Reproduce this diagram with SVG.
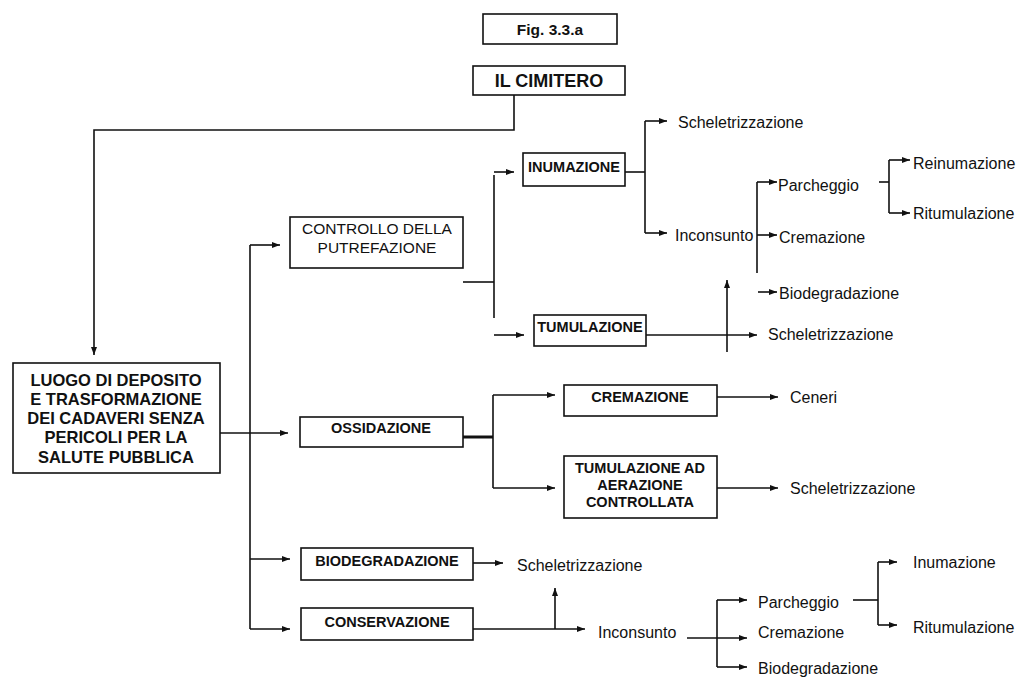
<svg xmlns="http://www.w3.org/2000/svg" width="1026" height="677" viewBox="0 0 1026 677">
  <defs>
    <marker id="ah" viewBox="0 0 8 6" refX="8" refY="3" markerWidth="8" markerHeight="6" markerUnits="userSpaceOnUse" orient="auto">
      <path d="M0,0 L8,3 L0,6 z" fill="#111"/>
    </marker>
  </defs>
  <style>
    .box { fill: #fff; stroke: #111; stroke-width: 1.6; }
    .ln { fill: none; stroke: #111; stroke-width: 1.6; }
    .arr { fill: none; stroke: #111; stroke-width: 1.6; marker-end: url(#ah); }
    .thick { stroke-width: 3; }
    text { font-family: "Liberation Sans", Arial, sans-serif; fill: #111; }
    .bt { font-weight: bold; font-size: 14.5px; text-anchor: middle; }
    .rt { font-size: 15.5px; text-anchor: middle; }
    .lbl { font-size: 16px; }
    .big { font-weight: bold; font-size: 16.5px; text-anchor: middle; }
  </style>
  <rect width="1026" height="677" fill="#fff"/>

  <!-- connectors -->
  <g id="connectors">
    <!-- cemetery to definition -->
    <polyline class="arr" points="514,95 514,130 94,130 94,355"/>
    <!-- definition to the four processes -->
    <line class="arr" x1="220" y1="433" x2="288" y2="433"/>
    <line class="ln" x1="250" y1="245" x2="250" y2="629"/>
    <line class="arr" x1="250" y1="245" x2="280" y2="245"/>
    <line class="arr" x1="250" y1="559" x2="290" y2="559"/>
    <line class="arr" x1="250" y1="629" x2="290" y2="629"/>

    <!-- putrefaction control branch -->
    <line class="ln" x1="463" y1="282" x2="494" y2="282"/>
    <line class="ln" x1="494" y1="175" x2="494" y2="318"/>
    <line class="arr" x1="494" y1="172" x2="514" y2="172"/>
    <line class="arr" x1="494" y1="335" x2="524" y2="335"/>

    <!-- inhumation outcomes -->
    <line class="ln" x1="625" y1="172" x2="645" y2="172"/>
    <line class="ln" x1="645" y1="121" x2="645" y2="233"/>
    <line class="arr" x1="645" y1="121" x2="667" y2="121"/>
    <line class="arr" x1="645" y1="233" x2="667" y2="233"/>
    <line class="ln" x1="757" y1="182" x2="757" y2="273"/>
    <line class="arr" x1="757" y1="182" x2="777" y2="182"/>
    <line class="arr" x1="757" y1="235" x2="777" y2="235"/>
    <line class="arr" x1="758" y1="292" x2="777" y2="292"/>
    <line class="ln" x1="879" y1="182" x2="889" y2="182"/>
    <line class="ln" x1="889" y1="160" x2="889" y2="213"/>
    <line class="arr" x1="889" y1="160" x2="910" y2="160"/>
    <line class="arr" x1="889" y1="213" x2="910" y2="213"/>

    <!-- entombment outcomes -->
    <line class="arr" x1="646" y1="335" x2="757" y2="335"/>
    <line class="arr" x1="727" y1="352" x2="727" y2="280"/>

    <!-- oxidation branch -->
    <line class="ln thick" x1="463" y1="437" x2="493" y2="437"/>
    <line class="ln" x1="493" y1="395" x2="493" y2="488"/>
    <line class="arr" x1="493" y1="395" x2="555" y2="395"/>
    <line class="arr" x1="493" y1="488" x2="555" y2="488"/>
    <line class="arr" x1="717" y1="397" x2="778" y2="397"/>
    <line class="arr" x1="717" y1="488" x2="778" y2="488"/>

    <!-- biodegradation / conservation -->
    <line class="arr" x1="473" y1="563" x2="503" y2="563"/>
    <line class="arr" x1="473" y1="629" x2="585" y2="629"/>
    <line class="arr" x1="555" y1="629" x2="555" y2="588"/>
    <line class="arr" x1="687" y1="638" x2="747" y2="638"/>
    <line class="ln" x1="717" y1="600" x2="717" y2="667"/>
    <line class="arr" x1="717" y1="600" x2="747" y2="600"/>
    <line class="arr" x1="717" y1="667" x2="747" y2="667"/>
    <line class="ln" x1="853" y1="600" x2="878" y2="600"/>
    <line class="ln" x1="878" y1="562" x2="878" y2="625"/>
    <line class="arr" x1="878" y1="562" x2="897" y2="562"/>
    <line class="arr" x1="878" y1="625" x2="897" y2="625"/>
  </g>

  <!-- boxed nodes -->
  <g id="fig-label">
    <rect class="box" x="483" y="14" width="134" height="30"/>
    <text class="bt" x="550" y="35" style="font-size:15.5px">Fig. 3.3.a</text>
  </g>
  <g id="cimitero">
    <rect class="box" x="473" y="66" width="152" height="29"/>
    <text class="bt" x="549" y="87" style="font-size:18px">IL CIMITERO</text>
  </g>
  <g id="luogo">
    <rect class="box" x="13" y="363" width="207" height="110"/>
    <text class="big" x="116" y="386">LUOGO DI DEPOSITO</text>
    <text class="big" x="116" y="405">E TRASFORMAZIONE</text>
    <text class="big" x="116" y="424">DEI CADAVERI SENZA</text>
    <text class="big" x="116" y="443">PERICOLI PER LA</text>
    <text class="big" x="116" y="463">SALUTE PUBBLICA</text>
  </g>
  <g id="controllo">
    <rect class="box" x="290" y="217" width="173" height="51"/>
    <text class="rt" x="377" y="234">CONTROLLO DELLA</text>
    <text class="rt" x="377" y="253">PUTREFAZIONE</text>
  </g>
  <g id="inumazione">
    <rect class="box" x="523" y="153" width="102" height="33"/>
    <text class="bt" x="574" y="172">INUMAZIONE</text>
  </g>
  <g id="tumulazione">
    <rect class="box" x="534" y="315" width="112" height="31"/>
    <text class="bt" x="590" y="332">TUMULAZIONE</text>
  </g>
  <g id="ossidazione">
    <rect class="box" x="300" y="417" width="163" height="30"/>
    <text class="bt" x="381" y="433">OSSIDAZIONE</text>
  </g>
  <g id="cremazione">
    <rect class="box" x="564" y="385" width="153" height="31"/>
    <text class="bt" x="640" y="402">CREMAZIONE</text>
  </g>
  <g id="tumulazione-aerata">
    <rect class="box" x="564" y="456" width="153" height="62"/>
    <text class="bt" x="640" y="473">TUMULAZIONE AD</text>
    <text class="bt" x="640" y="490">AERAZIONE</text>
    <text class="bt" x="640" y="507">CONTROLLATA</text>
  </g>
  <g id="biodegradazione">
    <rect class="box" x="301" y="548" width="172" height="32"/>
    <text class="bt" x="387" y="566">BIODEGRADAZIONE</text>
  </g>
  <g id="conservazione">
    <rect class="box" x="301" y="608" width="172" height="32"/>
    <text class="bt" x="387" y="627">CONSERVAZIONE</text>
  </g>

  <!-- plain outcome labels -->
  <g id="esiti-inumazione">
    <text class="lbl" x="678" y="128">Scheletrizzazione</text>
    <text class="lbl" x="675" y="241">Inconsunto</text>
    <text class="lbl" x="778" y="191">Parcheggio</text>
    <text class="lbl" x="779" y="243">Cremazione</text>
    <text class="lbl" x="779" y="299">Biodegradazione</text>
    <text class="lbl" x="913" y="169">Reinumazione</text>
    <text class="lbl" x="913" y="219">Ritumulazione</text>
  </g>
  <g id="esiti-tumulazione">
    <text class="lbl" x="768" y="340">Scheletrizzazione</text>
  </g>
  <g id="esiti-ossidazione">
    <text class="lbl" x="790" y="403">Ceneri</text>
    <text class="lbl" x="790" y="494">Scheletrizzazione</text>
  </g>
  <g id="esiti-conservazione">
    <text class="lbl" x="517" y="571">Scheletrizzazione</text>
    <text class="lbl" x="598" y="638">Inconsunto</text>
    <text class="lbl" x="758" y="608">Parcheggio</text>
    <text class="lbl" x="758" y="638">Cremazione</text>
    <text class="lbl" x="758" y="674">Biodegradazione</text>
    <text class="lbl" x="913" y="568">Inumazione</text>
    <text class="lbl" x="913" y="633">Ritumulazione</text>
  </g>
</svg>
